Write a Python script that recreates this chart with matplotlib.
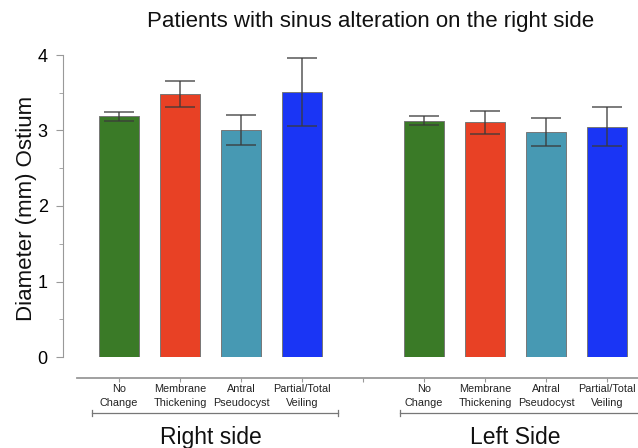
import matplotlib
matplotlib.use("Agg")
import matplotlib.pyplot as plt
import matplotlib.transforms as mtransforms

plt.rcParams['font.family'] = ['Liberation Sans', 'DejaVu Sans']

categories = ["No\nChange", "Membrane\nThickening", "Antral\nPseudocyst", "Partial/Total\nVeiling"]
groups = ["Right side", "Left Side"]
right_means = [3.19, 3.48, 3.01, 3.51]
right_err = [0.06, 0.17, 0.20, 0.45]
left_means = [3.13, 3.11, 2.98, 3.05]
left_err = [0.06, 0.15, 0.19, 0.26]
colors = ["#3a7a27", "#e84125", "#4799b3", "#1a35f5"]
title = "Patients with sinus alteration on the right side"
ylabel = "Diameter (mm) Ostium"

W, H = 638, 448
fig = plt.figure(figsize=(W / 100, H / 100), dpi=100)
px_left, px_right = 63, 638
px_y0, px_per_unit = 357, 75.5
ymax = 4.1
top_px = px_y0 - ymax * px_per_unit
ax = fig.add_axes([px_left / W, 1 - px_y0 / H, (px_right - px_left) / W, (px_y0 - top_px) / H])

pos_right = [0, 1, 2, 3]
pos_left = [5, 6, 7, 8]
ekw = dict(ecolor="#3a3a3a", elinewidth=1.1, capthick=1.1, alpha=0.85)
ax.bar(pos_right, right_means, width=0.65, color=colors, edgecolor="#777777", linewidth=0.7,
       yerr=right_err, capsize=11, error_kw=ekw)
ax.bar(pos_left, left_means, width=0.65, color=colors, edgecolor="#777777", linewidth=0.7,
       yerr=left_err, capsize=11, error_kw=ekw)

unit_px = 61.0
x0_px = 119
ax.set_xlim((px_left - x0_px) / unit_px, (px_right - x0_px) / unit_px)
ax.set_ylim(0, ymax)

for s in ["top", "right"]:
    ax.spines[s].set_visible(False)
ax.spines["left"].set_bounds(0, 4)
ax.spines["left"].set_color("#999999")
ax.spines["bottom"].set_position(("outward", 15))
ax.spines["bottom"].set_bounds((77 - x0_px) / unit_px, 9)
ax.spines["bottom"].set_color("#999999")
ax.spines["bottom"].set_linewidth(1.3)

ax.set_yticks([0, 1, 2, 3, 4])
ax.set_yticks([0.5, 1.5, 2.5, 3.5], minor=True)
ax.tick_params(axis="y", which="both", direction="out", color="#999999", labelsize=13, pad=6)
ax.tick_params(axis="y", which="major", length=5)
ax.tick_params(axis="y", which="minor", length=3)
ax.set_xticks(list(range(9)))
ax.set_xticklabels([""] * 9)
ax.tick_params(axis="x", direction="out", length=3, color="#999999")

trans = mtransforms.blended_transform_factory(ax.transData, fig.transFigure)
for positions in (pos_right, pos_left):
    for p, c in zip(positions, categories):
        ax.text(p, 1 - 396 / H, c, transform=trans, ha="center", va="center", fontsize=7.8,
                linespacing=1.45, color="#222222")

yb = 1 - 413 / H
tick_h = 3 / H
for (xa, xb), label, xc in [(((92 - x0_px) / unit_px, (338 - x0_px) / unit_px), groups[0], 1.5),
                            (((400 - x0_px) / unit_px, 9.5), groups[1], 6.5)]:
    ax.plot([xa, xb], [yb, yb], transform=trans, color="#777777", lw=0.9, clip_on=False)
    for xe in (xa, xb):
        ax.plot([xe, xe], [yb - tick_h, yb + tick_h], transform=trans, color="#777777", lw=0.9,
                clip_on=False)
    ax.text(xc, 1 - 437 / H, label, transform=trans, ha="center", va="center", fontsize=16.5,
            color="#111111")

fig.text(371 / W, 1 - 22 / H, title, ha="center", va="center", fontsize=16, color="#111111")
fig.text(27 / W, 1 - 208 / H, ylabel, ha="center", va="center", rotation=90, fontsize=16,
         color="#111111")

fig.savefig("out.png", dpi=100)
